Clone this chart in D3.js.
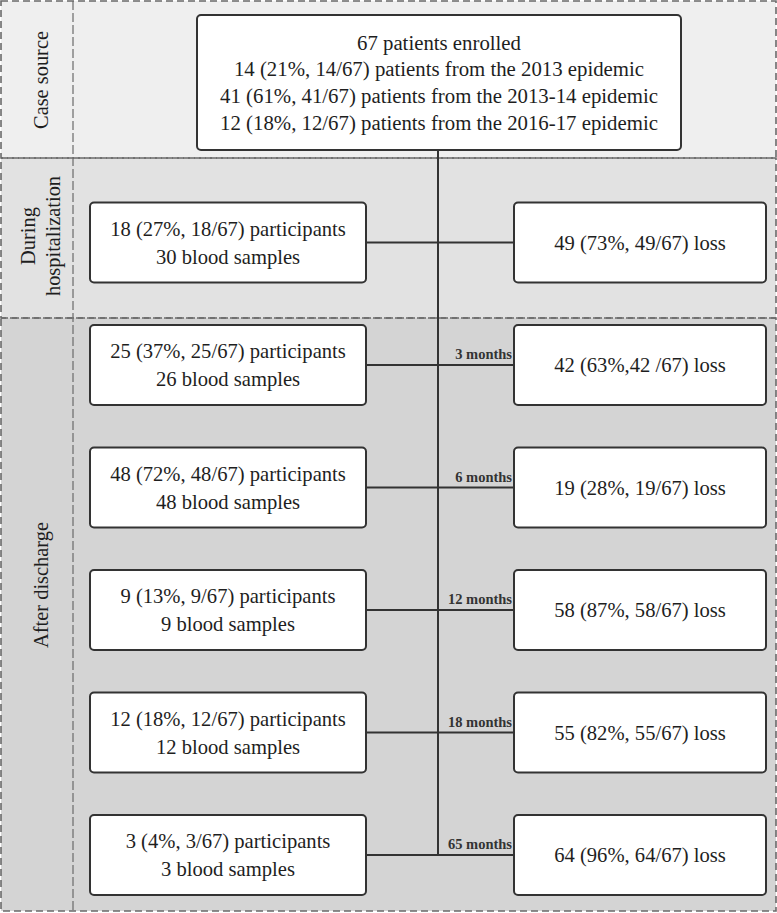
<!DOCTYPE html>
<html>
<head>
<meta charset="utf-8">
<script src="https://cdn.jsdelivr.net/npm/d3@7/dist/d3.min.js"></script>
<style>
  html, body { margin: 0; padding: 0; background: #fff; }
  svg { display: block; }
  text { font-family: "Liberation Serif", "Times New Roman", serif; }
</style>
</head>
<body>
<svg id="chart" width="777" height="913"></svg>
<script>
// ---------------- data ----------------
const sections = ["Case source", "During hospitalization", "After discharge"];
const sectionLabelLines = [["Case source"], ["During", "hospitalization"], ["After discharge"]];
const enrolledLines = [
  "67 patients enrolled",
  "14 (21%, 14/67) patients from the 2013 epidemic",
  "41 (61%, 41/67) patients from the 2013-14 epidemic",
  "12 (18%, 12/67) patients from the 2016-17 epidemic"
];
const timepoints = ["hospital", "3m", "6m", "12m", "18m", "65m"];
const timepointLabels = ["", "3 months", "6 months", "12 months", "18 months", "65 months"];
const participants = [18, 25, 48, 9, 12, 3];
const participantPct = [27, 37, 72, 13, 18, 4];
const bloodSamples = [30, 26, 48, 9, 12, 3];
const lossCounts = [49, 42, 19, 58, 55, 64];
const lossPct = [73, 63, 28, 87, 82, 96];
const lossLabels = [
  "49 (73%, 49/67) loss",
  "42 (63%,42 /67) loss",
  "19 (28%, 19/67) loss",
  "58 (87%, 58/67) loss",
  "55 (82%, 55/67) loss",
  "64 (96%, 64/67) loss"
];
const totalPatients = 67;

// ---------------- layout ----------------
const svg = d3.select("#chart");
const W = 777, H = 913;
const labelColX = 73;
const sectionBounds = [[1, 158], [158, 318], [318, 911]];
const sectionFill = ["#efefef", "#e2e2e2", "#d4d4d4"];
const sectionLabelY = [80, 236, 585];

const trunkX = 438;
const rowY = d3.scalePoint().domain(timepoints).range([242.5, 855]);
const boxH = 80;
const leftBox = { x0: 90, x1: 366 };
const rightBox = { x0: 514, x1: 766 };
const topBox = { x0: 197, x1: 681, y0: 15, y1: 150 };

const lineColor = "#333";
const textColor = "#1e1e1e";

// backgrounds
sectionBounds.forEach((b, i) => {
  svg.append("rect").attr("x", 1).attr("y", b[0]).attr("width", W - 2).attr("height", b[1] - b[0])
    .attr("fill", sectionFill[i]);
});

// dashed borders
const dash = "7,4";
const dashColor = "#6a6a6a";
sectionBounds.forEach((b, i) => {
  svg.append("rect").attr("x", 1).attr("y", b[0]).attr("width", W - 2).attr("height", b[1] - b[0])
    .attr("fill", "none").attr("stroke", dashColor).attr("stroke-width", 1.6)
    .attr("stroke-dasharray", dash);
});
svg.append("line").attr("x1", labelColX).attr("x2", labelColX).attr("y1", 1).attr("y2", 911)
  .attr("stroke", dashColor).attr("stroke-width", 1.2).attr("stroke-dasharray", "9,3");

// section labels
sectionLabelLines.forEach((lines, i) => {
  const g = svg.append("g").attr("transform", `translate(${labelColX / 2 + 4},${sectionLabelY[i]}) rotate(-90)`);
  const n = lines.length;
  lines.forEach((t, j) => {
    g.append("text").attr("x", 0).attr("y", (j - (n - 1) / 2) * 25)
      .attr("dy", "0.35em").attr("text-anchor", "middle")
      .attr("font-size", 20.4).attr("fill", textColor).text(t);
  });
});

// connectors
svg.append("line").attr("x1", trunkX).attr("x2", trunkX)
  .attr("y1", topBox.y1).attr("y2", rowY(timepoints[timepoints.length - 1]))
  .attr("stroke", lineColor).attr("stroke-width", 2);
timepoints.forEach((tp, i) => {
  svg.append("line").attr("x1", leftBox.x1).attr("x2", rightBox.x0)
    .attr("y1", rowY(tp)).attr("y2", rowY(tp))
    .attr("stroke", lineColor).attr("stroke-width", 2);
  if (timepointLabels[i]) {
    svg.append("text").attr("x", rightBox.x0 - 2).attr("y", rowY(tp) - 6)
      .attr("text-anchor", "end").attr("font-size", 14.5).attr("font-weight", "bold")
      .attr("fill", "#333").text(timepointLabels[i]);
  }
});

function box(x0, x1, y0, y1, lines, fs, lh) {
  svg.append("rect").attr("x", x0).attr("y", y0).attr("width", x1 - x0).attr("height", y1 - y0)
    .attr("rx", 4).attr("fill", "#fff").attr("stroke", lineColor).attr("stroke-width", 2);
  const cx = (x0 + x1) / 2, cy = (y0 + y1) / 2;
  const n = lines.length;
  lines.forEach((t, j) => {
    svg.append("text").attr("x", cx).attr("y", cy + (j - (n - 1) / 2) * lh)
      .attr("dy", "0.35em").attr("text-anchor", "middle")
      .attr("font-size", fs).attr("fill", textColor).text(t);
  });
}

// top box
box(topBox.x0, topBox.x1, topBox.y0, topBox.y1, enrolledLines, 20.8, 26.7);

// rows
timepoints.forEach((tp, i) => {
  const y = rowY(tp);
  box(leftBox.x0, leftBox.x1, y - boxH / 2, y + boxH / 2, [
    `${participants[i]} (${participantPct[i]}%, ${participants[i]}/${totalPatients}) participants`,
    `${bloodSamples[i]} blood samples`
  ], 20.6, 28);
  box(rightBox.x0, rightBox.x1, y - boxH / 2, y + boxH / 2, [lossLabels[i]], 20.6, 28);
});
</script>
</body>
</html>
